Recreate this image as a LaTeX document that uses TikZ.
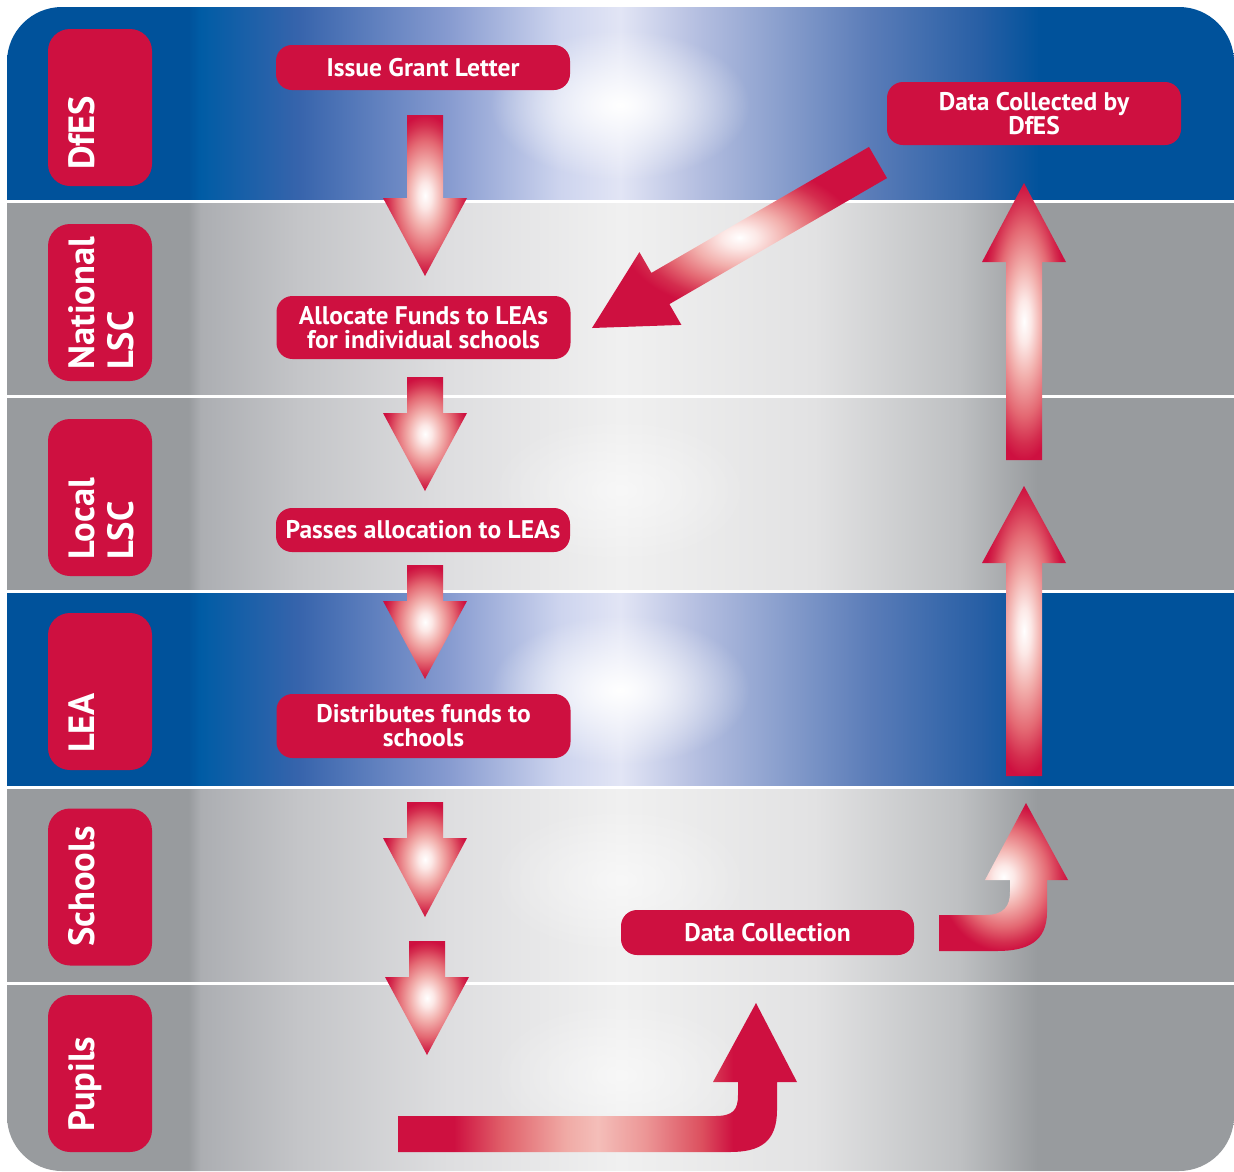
\documentclass[tikz,border=0pt]{standalone}
\usepackage{fontspec}
\setmainfont{PT Sans}
\usetikzlibrary{fadings}

\definecolor{crim}{RGB}{206,16,64}
\definecolor{bblue}{RGB}{0,82,155}
\definecolor{bbA}{RGB}{0,92,165}
\definecolor{bbB}{RGB}{55,100,172}
\definecolor{bbC}{RGB}{135,155,208}
\definecolor{bbD}{RGB}{205,212,238}
\definecolor{bbE}{RGB}{226,229,245}
\definecolor{bbF}{RGB}{180,190,224}
\definecolor{bbG}{RGB}{90,124,184}
\definecolor{bbH}{RGB}{40,95,165}
\definecolor{gg}{RGB}{152,155,158}
\definecolor{ggA}{RGB}{172,174,178}
\definecolor{ggB}{RGB}{196,197,200}
\definecolor{ggC}{RGB}{222,222,224}
\definecolor{ggE}{RGB}{240,240,240}
\definecolor{ggF}{RGB}{226,226,227}
\definecolor{ggG}{RGB}{190,192,194}
\definecolor{agA}{RGB}{252,232,230}
\definecolor{agB}{RGB}{242,175,172}
\definecolor{agC}{RGB}{228,105,115}
\definecolor{agD}{RGB}{212,45,78}
\definecolor{uA}{RGB}{224,95,105}
\definecolor{uB}{RGB}{240,170,165}
\definecolor{uC}{RGB}{244,190,185}
\definecolor{uD}{RGB}{236,150,150}
\definecolor{uE}{RGB}{220,80,95}

\pgfdeclarehorizontalshading{blueband}{100bp}{color(0bp)=(bblue); color(32.4bp)=(bblue); color(32.9bp)=(bbA); color(36.9bp)=(bbB); color(43bp)=(bbC); color(47.5bp)=(bbD); color(50bp)=(bbE); color(53.2bp)=(bbF); color(60.2bp)=(bbG); color(64.6bp)=(bbH); color(67.1bp)=(bblue); color(100bp)=(bblue)}
\pgfdeclarehorizontalshading{grayband}{100bp}{color(0bp)=(gg); color(32.4bp)=(gg); color(32.9bp)=(ggA); color(36.9bp)=(ggB); color(43bp)=(ggC); color(50bp)=(ggE); color(57.9bp)=(ggF); color(63.8bp)=(ggG); color(67bp)=(gg); color(100bp)=(gg)}
\pgfdeclareradialshading{arrglow}{\pgfpoint{0bp}{0bp}}{color(0bp)=(white); color(4bp)=(agA); color(10bp)=(agB); color(17bp)=(agC); color(22bp)=(agD); color(25bp)=(crim); color(50bp)=(crim)}
\pgfdeclareradialshading{arrglowT}{\pgfpoint{0bp}{0bp}}{color(0bp)=(white); color(3bp)=(agA); color(8bp)=(agB); color(13bp)=(agC); color(17bp)=(agD); color(20bp)=(crim); color(50bp)=(crim)}
\pgfdeclarehorizontalshading{ushade}{100bp}{color(0bp)=(crim); color(32bp)=(crim); color(38bp)=(uA); color(46bp)=(uB); color(50bp)=(uC); color(56bp)=(uD); color(63bp)=(uE); color(67bp)=(crim); color(100bp)=(crim)}

\tikzfading[name=glowfade, inner color=transparent!0, outer color=transparent!100]

\tikzset{
  lab/.style={fill=crim, rounded corners=22, minimum width=104, minimum height=157, inner sep=0},
  labtext/.style={text=white, font=\fontsize{36.5}{39}\selectfont\bfseries, rotate=90, anchor=base west, align=left, inner sep=0},
  flowbox/.style={fill=crim, rounded corners=16, text=white, font=\fontsize{25.5}{24}\selectfont\bfseries, align=center, minimum width=294, minimum height=45, inner sep=0},
  sep/.style={white, line width=2.2},
  blockarrow/.style={shading=arrglow},
}

\newcommand\mydnarrow[4]{\shade[blockarrow] (#1-18,#2) -- (#1+18,#2) -- (#1+18,#3) -- (#1+42,#3) -- (#1,#4) -- (#1-42,#3) -- (#1-18,#3) -- cycle;}
\newcommand\myuparr[4]{\shade[blockarrow] (#1-18,#2) -- (#1+18,#2) -- (#1+18,#3) -- (#1+42,#3) -- (#1,#4) -- (#1-42,#3) -- (#1-18,#3) -- cycle;}

\begin{document}
\begin{tikzpicture}[x=1pt,y=-1pt]
\useasboundingbox (0,0) rectangle (1234,1171);
\begin{scope}
  \clip[rounded corners=55] (7,7) rectangle (1234,1171);
  \shade[shading=blueband] (7,7) rectangle (1234,201.5);
  \shade[shading=grayband] (7,201.5) rectangle (1234,396.5);
  \shade[shading=grayband] (7,396.5) rectangle (1234,591.5);
  \shade[shading=blueband] (7,591.5) rectangle (1234,787.5);
  \shade[shading=grayband] (7,787.5) rectangle (1234,983.5);
  \shade[shading=grayband] (7,983.5) rectangle (1234,1171);
  \fill[white, path fading=glowfade] (620,105) ellipse [x radius=130, y radius=75];
  \fill[white, path fading=glowfade] (620,690) ellipse [x radius=130, y radius=75];
  \fill[white, opacity=0.5, path fading=glowfade] (620,490) ellipse [x radius=130, y radius=75];
  \fill[white, opacity=0.5, path fading=glowfade] (620,880) ellipse [x radius=130, y radius=75];
  \fill[white, opacity=0.5, path fading=glowfade] (620,1075) ellipse [x radius=130, y radius=75];
  \draw[sep] (7,201.5) -- (1234,201.5);
  \draw[sep] (7,396.5) -- (1234,396.5);
  \draw[sep] (7,591.5) -- (1234,591.5);
  \draw[sep] (7,787.5) -- (1234,787.5);
  \draw[sep] (7,983.5) -- (1234,983.5);
\end{scope}

% lane labels
\node[lab] (bDfES) at (100,107.5) {};
\node[lab] (bNat) at (100,302.5) {};
\node[lab] (bLoc) at (100,497.5) {};
\node[lab] (bLEA) at (100,691.5) {};
\node[lab] (bSch) at (100,887) {};
\node[lab] (bPup) at (100,1073.5) {};
\node[labtext] (tDfES) at (94,170) {DfES};
\node[labtext] (tNat) at (133,370) {National\\LSC};
\node[labtext] (tLoc) at (133,560) {Local\\LSC};
\node[labtext] (tLEA) at (94,753) {LEA};
\node[labtext] (tSch) at (94,947) {Schools};
\node[labtext] (tPup) at (94,1132) {Pupils};

% block arrows
\mydnarrow{425}{115}{198}{276}
\mydnarrow{425}{377}{413}{491}
\mydnarrow{425}{565}{601}{679}
\mydnarrow{425}{802}{838}{917}
\mydnarrow{427}{941}{977}{1055}
\myuparr{1024}{460}{262}{183}
\myuparr{1024}{776}{563}{486}
\shade[shading=arrglowT] (869,146.9) -- (887,178.1) -- (669.4,304.1) -- (681.4,324.9) -- (592,328) -- (639.4,252.1) -- (651.4,272.9) -- cycle;
\shade[shading=ushade] (398,1116) -- (715,1116) .. controls (733,1116) and (738,1110) .. (738,1095) -- (738,1082) -- (713,1082) -- (756,1003) -- (797,1082) -- (777,1082) -- (777,1110) .. controls (777,1142) and (760,1152) .. (730,1152) -- (398,1152) -- cycle;
\shade[blockarrow] (939,915) -- (985,915) .. controls (1004,915) and (1010,906) .. (1010,892) -- (1010,880) -- (985,880) -- (1026,803) -- (1068,880) -- (1047,880) -- (1047,912) .. controls (1047,942) and (1027,951) .. (997,951) -- (939,951) -- cycle;

% flow boxes
\node[flowbox] (issue) at (423,67.5) {Issue Grant Letter};
\node[flowbox, minimum height=63] (dcdfes) at (1034,113.5) {Data Collected by\\DfES};
\node[flowbox, minimum height=63] (alloc) at (423.5,327.5) {Allocate Funds to LEAs\\for individual schools};
\node[flowbox, minimum height=44] (passes) at (423,530) {Passes allocation to LEAs};
\node[flowbox, minimum height=64] (distr) at (423.5,726) {Distributes funds to\\schools};
\node[flowbox, minimum width=293] (dcoll) at (767.5,932.5) {Data Collection};
\end{tikzpicture}
\end{document}
